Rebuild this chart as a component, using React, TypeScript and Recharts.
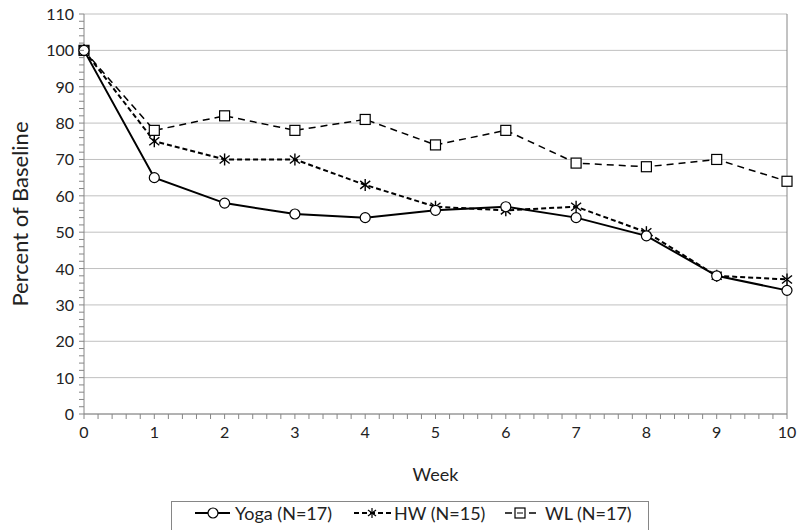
import React from 'react';
import { LineChart, Line, XAxis, YAxis, CartesianGrid, ReferenceLine } from 'recharts';

const weeks = [0, 1, 2, 3, 4, 5, 6, 7, 8, 9, 10];
const yogaValues = [100, 65, 58, 55, 54, 56, 57, 54, 49, 38, 34];
const hwValues = [100, 75, 70, 70, 63, 57, 56, 57, 50, 38, 37];
const wlValues = [100, 78, 82, 78, 81, 74, 78, 69, 68, 70, 64];

const yMajorTicks = [0, 10, 20, 30, 40, 50, 60, 70, 80, 90, 100, 110];

// minor ticks: 5 per major step on both axes
const xTicks: number[] = [];
for (let k = 0; k <= 50; k++) xTicks.push(Math.round(k * 2) / 10);
const yTicks: number[] = [];
for (let k = 0; k <= 55; k++) yTicks.push(k * 2);

const data = weeks.map((w, i) => ({
  week: w,
  yoga: yogaValues[i],
  hw: hwValues[i],
  wl: wlValues[i],
}));

const FONT = 'Lato, "Open Sans", sans-serif';
const AXIS = '#868686';

const XTick = (props: any) => {
  const { x, y, payload } = props;
  const major = Number.isInteger(payload.value);
  return (
    <g>
      <line x1={x} x2={x} y1={y} y2={y + 5} stroke={AXIS} />
      {major && (
        <text x={x} y={y + 24} textAnchor="middle" fontSize={16} fontFamily={FONT} fill="#222">
          {payload.value}
        </text>
      )}
    </g>
  );
};

const YTick = (props: any) => {
  const { x, y, payload } = props;
  const major = payload.value % 10 === 0;
  return (
    <g>
      <line x1={x - 5} x2={x} y1={y} y2={y} stroke={AXIS} />
      {major && (
        <text x={x - 10} y={y + 6} textAnchor="end" fontSize={16} fontFamily={FONT} fill="#222">
          {payload.value}
        </text>
      )}
    </g>
  );
};

const CircleDot = (props: any) => {
  const { cx, cy, index } = props;
  return <circle key={`c${index}`} cx={cx} cy={cy} r={5} fill="#fff" stroke="#000" strokeWidth={1.2} />;
};

const StarDot = (props: any) => {
  const { cx, cy, index } = props;
  return (
    <g key={`s${index}`} stroke="#000" strokeWidth={1.4}>
      <line x1={cx} x2={cx} y1={cy - 6} y2={cy + 6} />
      <line x1={cx - 5} x2={cx + 5} y1={cy - 4} y2={cy + 4} />
      <line x1={cx - 5} x2={cx + 5} y1={cy + 4} y2={cy - 4} />
    </g>
  );
};

const SquareDot = (props: any) => {
  const { cx, cy, index } = props;
  return (
    <rect key={`q${index}`} x={cx - 5} y={cy - 5} width={10} height={10} fill="#fff" stroke="#000" strokeWidth={1.2} />
  );
};

function LegendBox() {
  return (
    <svg
      width={478}
      height={30}
      style={{ position: 'absolute', left: 171, top: 501 }}
    >
      <rect x={0.5} y={0.5} width={477} height={40} fill="#fff" stroke={AXIS} />
      <g fontFamily={FONT} fontSize={18} fill="#222">
        <line x1={24} x2={59} y1={12} y2={12} stroke="#000" strokeWidth={2} />
        <circle cx={42} cy={12} r={5} fill="#fff" stroke="#000" strokeWidth={1.2} />
        <text x={64} y={19}>Yoga (N=17)</text>

        <line x1={183} x2={221} y1={12} y2={12} stroke="#000" strokeWidth={2} strokeDasharray="5 3" />
        <g stroke="#000" strokeWidth={1.2}>
          <line x1={201} x2={201} y1={7} y2={17} />
          <line x1={197} x2={205} y1={9} y2={15} />
          <line x1={197} x2={205} y1={15} y2={9} />
        </g>
        <text x={223} y={19}>HW (N=15)</text>

        <line x1={334} x2={367} y1={12} y2={12} stroke="#000" strokeWidth={1.5} strokeDasharray="7 5" />
        <rect x={344} y={7} width={10} height={10} fill="#fff" stroke="#000" strokeWidth={1.2} />
        <line x1={346} x2={352} y1={12} y2={12} stroke="#000" strokeWidth={1} />
        <text x={374} y={19}>WL (N=17)</text>
      </g>
    </svg>
  );
}

export default function App() {
  return (
    <div style={{ position: 'absolute', left: 0, top: 0, width: 800, height: 530, background: '#fff', overflow: 'hidden' }}>
      <LineChart width={800} height={530} data={data} margin={{ top: 14, right: 13, left: 0, bottom: 86 }}>
        <CartesianGrid horizontal vertical={false} horizontalValues={yMajorTicks} stroke="#c0c0c0" />
        <XAxis
          dataKey="week"
          type="number"
          domain={[0, 10]}
          ticks={xTicks}
          interval={0}
          tick={<XTick />}
          tickLine={false}
          tickSize={0}
          tickMargin={0}
          axisLine={{ stroke: AXIS }}
          height={30}
          label={{ value: 'Week', position: 'bottom', offset: 24, fontSize: 18, fontFamily: FONT, fill: '#222' }}
        />
        <YAxis
          type="number"
          domain={[0, 110]}
          ticks={yTicks}
          interval={0}
          tick={<YTick />}
          tickLine={false}
          tickSize={0}
          tickMargin={0}
          axisLine={{ stroke: AXIS }}
          width={84}
          label={{
            value: 'Percent of Baseline',
            angle: -90,
            position: 'insideLeft',
            offset: 20,
            style: { textAnchor: 'middle', fontSize: 22, fontFamily: FONT, fill: '#222' },
          }}
        />
        <ReferenceLine x={10} stroke={AXIS} />
        <Line
          dataKey="wl"
          type="linear"
          stroke="#000"
          strokeWidth={1.5}
          strokeDasharray="7 5"
          dot={<SquareDot />}
          isAnimationActive={false}
        />
        <Line
          dataKey="hw"
          type="linear"
          stroke="#000"
          strokeWidth={2}
          strokeDasharray="5 3"
          dot={<StarDot />}
          isAnimationActive={false}
        />
        <Line
          dataKey="yoga"
          type="linear"
          stroke="#000"
          strokeWidth={2}
          dot={<CircleDot />}
          isAnimationActive={false}
        />
      </LineChart>
      <LegendBox />
    </div>
  );
}
